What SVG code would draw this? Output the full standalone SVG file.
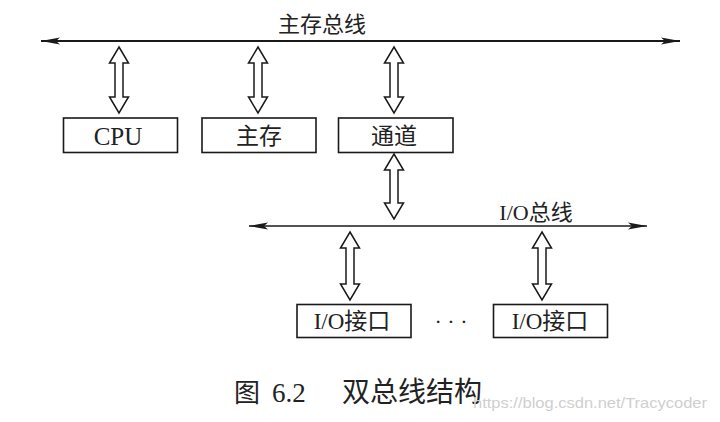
<svg xmlns="http://www.w3.org/2000/svg" width="720" height="422" viewBox="0 0 720 422">
<style>
.box{fill:#fff;stroke:#1a1a1a;stroke-width:1.6}
.dbl{fill:#fff;stroke:#1a1a1a;stroke-width:1.5;stroke-linejoin:miter}
.bus{stroke:#1a1a1a;fill:none}
.t{font-family:"Liberation Serif","Noto Sans CJK SC",serif;fill:#222;text-anchor:middle}
.lbl{font-size:23px}
.cap{font-family:"Liberation Serif","Noto Sans CJK SC",serif;fill:#222;font-size:27px}
</style>
<defs>
<marker id="ah" markerWidth="22" markerHeight="10" refX="20" refY="5" orient="auto-start-reverse" markerUnits="userSpaceOnUse" viewBox="0 0 22 10">
<path d="M1,1.6 L20,5 L1,8.4 L5,5 Z" fill="#1a1a1a"/>
</marker>
</defs>
<rect width="720" height="422" fill="#fff"/>

<g id="connectors">
<line id="main-bus" class="bus" x1="41" y1="41" x2="680" y2="41" stroke-width="1.8" marker-start="url(#ah)" marker-end="url(#ah)"/>
<line id="io-bus" class="bus" x1="249" y1="226" x2="647" y2="226" stroke-width="1.5" marker-start="url(#ah)" marker-end="url(#ah)"/>
<path class="dbl" d="M119,47 L128.5,63 L123,63 L123,97 L128.5,97 L119,113 L109.5,97 L115,97 L115,63 L109.5,63 Z"/>
<path class="dbl" d="M258,47 L267.5,63 L262,63 L262,97 L267.5,97 L258,113 L248.5,97 L254,97 L254,63 L248.5,63 Z"/>
<path class="dbl" d="M394,47 L403.5,63 L398,63 L398,97 L403.5,97 L394,113 L384.5,97 L390,97 L390,63 L384.5,63 Z"/>
<path class="dbl" d="M394,154 L403.5,170 L398,170 L398,203 L403.5,203 L394,219 L384.5,203 L390,203 L390,170 L384.5,170 Z"/>
<path class="dbl" d="M350,232 L359.5,248 L354,248 L354,284 L359.5,284 L350,300 L340.5,284 L346,284 L346,248 L340.5,248 Z"/>
<path class="dbl" d="M542,232 L551.5,248 L546,248 L546,284 L551.5,284 L542,300 L532.5,284 L538,284 L538,248 L532.5,248 Z"/>
</g>

<text class="t" x="322" y="32" font-size="22">主存总线</text>
<text class="t" x="536" y="220" font-size="22">I/O总线</text>

<g id="cpu">
<rect class="box" x="63.5" y="118" width="114" height="34.5"/>
<text class="t" x="118" y="145" font-size="25">CPU</text>
</g>
<g id="memory">
<rect class="box" x="202" y="118" width="114" height="34.5"/>
<text class="t lbl" x="259" y="144">主存</text>
</g>
<g id="channel">
<rect class="box" x="338.5" y="118" width="114.5" height="34.5"/>
<text class="t lbl" x="394" y="144">通道</text>
</g>
<g id="io1">
<rect class="box" x="297" y="304.5" width="114" height="33"/>
<text class="t lbl" x="352" y="329">I/O接口</text>
</g>
<g id="io2">
<rect class="box" x="493.5" y="304.5" width="114" height="33"/>
<text class="t lbl" x="550" y="329">I/O接口</text>
</g>
<text class="t" x="451" y="329" font-size="22">· · ·</text>

<text class="cap" y="402"><tspan x="234" font-size="26">图</tspan><tspan x="272">6.2</tspan><tspan x="342" font-size="28">双总线结构</tspan></text>
<text x="473" y="408" font-family="Liberation Sans, Arial, sans-serif" font-size="15" fill="#cfcfcf" textLength="234" lengthAdjust="spacingAndGlyphs">https://blog.csdn.net/Tracycoder</text>
</svg>
